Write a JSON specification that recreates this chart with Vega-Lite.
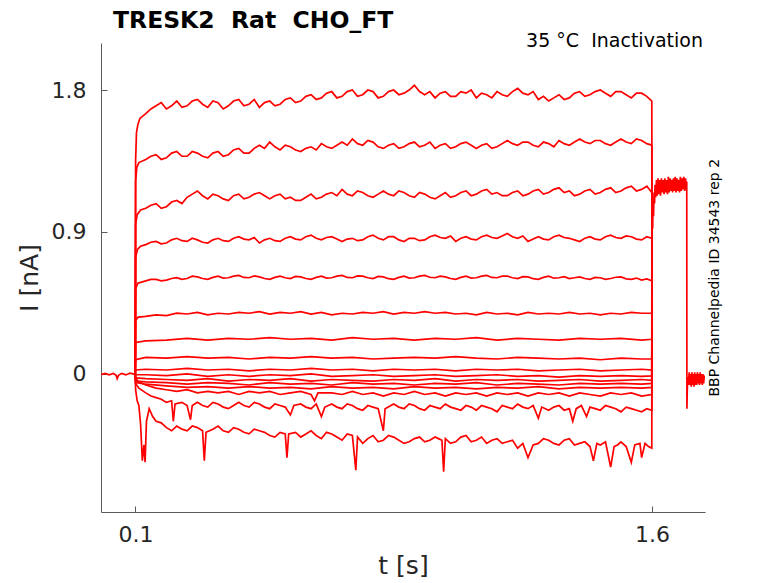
{
"$schema": "https://vega.github.io/schema/vega-lite/v6.json",
"width": 604, "height": 469,
"autosize": {"type": "none"},
"padding": {"left": 101, "top": 43, "right": 73, "bottom": 71},
"background": "white",
"config": {"view": {"stroke": null}, "font": "DejaVu Sans"},
"title": {"text": "TRESK2\u00a0\u00a0Rat\u00a0\u00a0CHO_FT", "anchor": "start", "frame": "group", "dx": 12, "offset": 0, "fontSize": 23.5, "font": "DejaVu Sans", "fontWeight": "bold", "color": "#000000"},
"layer": [
{
"data": {"values": [
{"s":0,"t":0,"i":-0.005},{"s":0,"t":0.012,"i":0.004},{"s":0,"t":0.024,"i":-0.006},{"s":0,"t":0.036,"i":0.003},{"s":0,"t":0.044,"i":-0.008},{"s":0,"t":0.047,"i":-0.03},{"s":0,"t":0.051,"i":-0.008},{"s":0,"t":0.06,"i":0.004},{"s":0,"t":0.072,"i":-0.006},{"s":0,"t":0.084,"i":0.005},{"s":0,"t":0.0995,"i":-0.003},

{"s":1,"t":0.0995,"i":0},{"s":1,"t":0.1005,"i":1.35},{"s":1,"t":0.103,"i":1.53},{"s":1,"t":0.107,"i":1.58},{"s":1,"t":0.113,"i":1.62},
{"s":1,"t":0.13,"i":1.65},{"s":1,"t":0.16,"i":1.70},{"s":1,"t":0.19,"i":1.68},{"s":1,"t":0.22,"i":1.73},{"s":1,"t":0.25,"i":1.70},{"s":1,"t":0.28,"i":1.74},{"s":1,"t":0.31,"i":1.69},{"s":1,"t":0.34,"i":1.72},{"s":1,"t":0.37,"i":1.70},{"s":1,"t":0.40,"i":1.74},{"s":1,"t":0.43,"i":1.71},{"s":1,"t":0.46,"i":1.69},{"s":1,"t":0.49,"i":1.73},{"s":1,"t":0.52,"i":1.71},{"s":1,"t":0.55,"i":1.75},{"s":1,"t":0.58,"i":1.73},{"s":1,"t":0.61,"i":1.77},{"s":1,"t":0.64,"i":1.75},{"s":1,"t":0.67,"i":1.79},{"s":1,"t":0.70,"i":1.76},{"s":1,"t":0.73,"i":1.80},{"s":1,"t":0.76,"i":1.77},{"s":1,"t":0.79,"i":1.79},{"s":1,"t":0.82,"i":1.76},{"s":1,"t":0.85,"i":1.80},{"s":1,"t":0.88,"i":1.78},{"s":1,"t":0.91,"i":1.83},{"s":1,"t":0.94,"i":1.77},{"s":1,"t":0.97,"i":1.75},{"s":1,"t":1.00,"i":1.79},{"s":1,"t":1.03,"i":1.76},{"s":1,"t":1.06,"i":1.78},{"s":1,"t":1.09,"i":1.75},{"s":1,"t":1.12,"i":1.77},{"s":1,"t":1.15,"i":1.79},{"s":1,"t":1.18,"i":1.76},{"s":1,"t":1.21,"i":1.81},{"s":1,"t":1.24,"i":1.77},{"s":1,"t":1.27,"i":1.74},{"s":1,"t":1.30,"i":1.73},{"s":1,"t":1.33,"i":1.77},{"s":1,"t":1.36,"i":1.75},{"s":1,"t":1.39,"i":1.79},{"s":1,"t":1.42,"i":1.77},{"s":1,"t":1.45,"i":1.80},{"s":1,"t":1.48,"i":1.76},{"s":1,"t":1.51,"i":1.79},{"s":1,"t":1.54,"i":1.75},{"s":1,"t":1.57,"i":1.78},{"s":1,"t":1.5995,"i":1.73},{"s":1,"t":1.6002,"i":0.95},
{"s":1,"t":0.145,"i":1.68},{"s":1,"t":0.175,"i":1.72},{"s":1,"t":0.205,"i":1.70},{"s":1,"t":0.235,"i":1.69},{"s":1,"t":0.265,"i":1.73},{"s":1,"t":0.295,"i":1.71},{"s":1,"t":0.325,"i":1.73},{"s":1,"t":0.355,"i":1.68},{"s":1,"t":0.385,"i":1.73},{"s":1,"t":0.415,"i":1.70},{"s":1,"t":0.445,"i":1.74},{"s":1,"t":0.475,"i":1.72},{"s":1,"t":0.505,"i":1.70},{"s":1,"t":0.535,"i":1.74},{"s":1,"t":0.565,"i":1.72},{"s":1,"t":0.595,"i":1.76},{"s":1,"t":0.625,"i":1.74},{"s":1,"t":0.655,"i":1.78},{"s":1,"t":0.685,"i":1.75},{"s":1,"t":0.715,"i":1.79},{"s":1,"t":0.745,"i":1.76},{"s":1,"t":0.775,"i":1.80},{"s":1,"t":0.805,"i":1.75},{"s":1,"t":0.835,"i":1.79},{"s":1,"t":0.865,"i":1.77},{"s":1,"t":0.895,"i":1.80},{"s":1,"t":0.925,"i":1.79},{"s":1,"t":0.955,"i":1.79},{"s":1,"t":0.985,"i":1.78},{"s":1,"t":1.015,"i":1.76},{"s":1,"t":1.045,"i":1.79},{"s":1,"t":1.075,"i":1.80},{"s":1,"t":1.105,"i":1.78},{"s":1,"t":1.135,"i":1.75},{"s":1,"t":1.165,"i":1.77},{"s":1,"t":1.195,"i":1.79},{"s":1,"t":1.225,"i":1.78},{"s":1,"t":1.255,"i":1.79},{"s":1,"t":1.285,"i":1.76},{"s":1,"t":1.315,"i":1.75},{"s":1,"t":1.345,"i":1.74},{"s":1,"t":1.375,"i":1.78},{"s":1,"t":1.405,"i":1.76},{"s":1,"t":1.435,"i":1.79},{"s":1,"t":1.465,"i":1.78},{"s":1,"t":1.495,"i":1.79},{"s":1,"t":1.525,"i":1.77},{"s":1,"t":1.555,"i":1.78},{"s":1,"t":1.585,"i":1.76},

{"s":2,"t":0.0995,"i":0},{"s":2,"t":0.1005,"i":1.22},{"s":2,"t":0.104,"i":1.31},{"s":2,"t":0.11,"i":1.34},
{"s":2,"t":0.13,"i":1.36},{"s":2,"t":0.16,"i":1.39},{"s":2,"t":0.19,"i":1.37},{"s":2,"t":0.22,"i":1.41},{"s":2,"t":0.25,"i":1.38},{"s":2,"t":0.28,"i":1.40},{"s":2,"t":0.31,"i":1.37},{"s":2,"t":0.34,"i":1.41},{"s":2,"t":0.37,"i":1.39},{"s":2,"t":0.40,"i":1.43},{"s":2,"t":0.43,"i":1.40},{"s":2,"t":0.46,"i":1.45},{"s":2,"t":0.49,"i":1.47},{"s":2,"t":0.52,"i":1.42},{"s":2,"t":0.55,"i":1.44},{"s":2,"t":0.58,"i":1.41},{"s":2,"t":0.61,"i":1.44},{"s":2,"t":0.64,"i":1.46},{"s":2,"t":0.67,"i":1.43},{"s":2,"t":0.70,"i":1.47},{"s":2,"t":0.73,"i":1.49},{"s":2,"t":0.76,"i":1.45},{"s":2,"t":0.79,"i":1.47},{"s":2,"t":0.82,"i":1.43},{"s":2,"t":0.85,"i":1.46},{"s":2,"t":0.88,"i":1.44},{"s":2,"t":0.91,"i":1.47},{"s":2,"t":0.94,"i":1.45},{"s":2,"t":0.97,"i":1.43},{"s":2,"t":1.00,"i":1.46},{"s":2,"t":1.03,"i":1.44},{"s":2,"t":1.06,"i":1.47},{"s":2,"t":1.09,"i":1.43},{"s":2,"t":1.12,"i":1.46},{"s":2,"t":1.15,"i":1.44},{"s":2,"t":1.18,"i":1.48},{"s":2,"t":1.21,"i":1.45},{"s":2,"t":1.24,"i":1.47},{"s":2,"t":1.27,"i":1.44},{"s":2,"t":1.30,"i":1.46},{"s":2,"t":1.33,"i":1.48},{"s":2,"t":1.36,"i":1.45},{"s":2,"t":1.39,"i":1.49},{"s":2,"t":1.42,"i":1.46},{"s":2,"t":1.45,"i":1.48},{"s":2,"t":1.48,"i":1.45},{"s":2,"t":1.51,"i":1.49},{"s":2,"t":1.54,"i":1.46},{"s":2,"t":1.57,"i":1.48},{"s":2,"t":1.5995,"i":1.45},{"s":2,"t":1.6002,"i":0.95},
{"s":2,"t":0.145,"i":1.38},{"s":2,"t":0.175,"i":1.36},{"s":2,"t":0.205,"i":1.40},{"s":2,"t":0.235,"i":1.38},{"s":2,"t":0.265,"i":1.41},{"s":2,"t":0.295,"i":1.38},{"s":2,"t":0.325,"i":1.40},{"s":2,"t":0.355,"i":1.38},{"s":2,"t":0.385,"i":1.42},{"s":2,"t":0.415,"i":1.40},{"s":2,"t":0.445,"i":1.43},{"s":2,"t":0.475,"i":1.43},{"s":2,"t":0.505,"i":1.44},{"s":2,"t":0.535,"i":1.45},{"s":2,"t":0.565,"i":1.42},{"s":2,"t":0.595,"i":1.43},{"s":2,"t":0.625,"i":1.42},{"s":2,"t":0.655,"i":1.44},{"s":2,"t":0.685,"i":1.45},{"s":2,"t":0.715,"i":1.45},{"s":2,"t":0.745,"i":1.46},{"s":2,"t":0.775,"i":1.48},{"s":2,"t":0.805,"i":1.44},{"s":2,"t":0.835,"i":1.45},{"s":2,"t":0.865,"i":1.43},{"s":2,"t":0.895,"i":1.46},{"s":2,"t":0.925,"i":1.44},{"s":2,"t":0.955,"i":1.47},{"s":2,"t":0.985,"i":1.45},{"s":2,"t":1.015,"i":1.43},{"s":2,"t":1.045,"i":1.46},{"s":2,"t":1.075,"i":1.45},{"s":2,"t":1.105,"i":1.45},{"s":2,"t":1.135,"i":1.43},{"s":2,"t":1.165,"i":1.46},{"s":2,"t":1.195,"i":1.46},{"s":2,"t":1.225,"i":1.47},{"s":2,"t":1.255,"i":1.45},{"s":2,"t":1.285,"i":1.47},{"s":2,"t":1.315,"i":1.44},{"s":2,"t":1.345,"i":1.46},{"s":2,"t":1.375,"i":1.47},{"s":2,"t":1.405,"i":1.47},{"s":2,"t":1.435,"i":1.48},{"s":2,"t":1.465,"i":1.46},{"s":2,"t":1.495,"i":1.47},{"s":2,"t":1.525,"i":1.47},{"s":2,"t":1.555,"i":1.49},{"s":2,"t":1.585,"i":1.46},

{"s":3,"t":0.0995,"i":0},{"s":3,"t":0.1005,"i":0.95},{"s":3,"t":0.105,"i":1.01},{"s":3,"t":0.115,"i":1.04},
{"s":3,"t":0.13,"i":1.05},{"s":3,"t":0.16,"i":1.08},{"s":3,"t":0.19,"i":1.06},{"s":3,"t":0.22,"i":1.10},{"s":3,"t":0.25,"i":1.12},{"s":3,"t":0.28,"i":1.16},{"s":3,"t":0.31,"i":1.11},{"s":3,"t":0.34,"i":1.13},{"s":3,"t":0.37,"i":1.10},{"s":3,"t":0.40,"i":1.14},{"s":3,"t":0.43,"i":1.12},{"s":3,"t":0.46,"i":1.15},{"s":3,"t":0.49,"i":1.11},{"s":3,"t":0.52,"i":1.14},{"s":3,"t":0.55,"i":1.12},{"s":3,"t":0.58,"i":1.10},{"s":3,"t":0.61,"i":1.14},{"s":3,"t":0.64,"i":1.12},{"s":3,"t":0.67,"i":1.15},{"s":3,"t":0.70,"i":1.17},{"s":3,"t":0.73,"i":1.13},{"s":3,"t":0.76,"i":1.15},{"s":3,"t":0.79,"i":1.12},{"s":3,"t":0.82,"i":1.16},{"s":3,"t":0.85,"i":1.13},{"s":3,"t":0.88,"i":1.15},{"s":3,"t":0.91,"i":1.12},{"s":3,"t":0.94,"i":1.14},{"s":3,"t":0.97,"i":1.11},{"s":3,"t":1.00,"i":1.15},{"s":3,"t":1.03,"i":1.13},{"s":3,"t":1.06,"i":1.16},{"s":3,"t":1.09,"i":1.14},{"s":3,"t":1.12,"i":1.17},{"s":3,"t":1.15,"i":1.15},{"s":3,"t":1.18,"i":1.13},{"s":3,"t":1.21,"i":1.16},{"s":3,"t":1.24,"i":1.14},{"s":3,"t":1.27,"i":1.17},{"s":3,"t":1.30,"i":1.15},{"s":3,"t":1.33,"i":1.18},{"s":3,"t":1.36,"i":1.16},{"s":3,"t":1.39,"i":1.14},{"s":3,"t":1.42,"i":1.17},{"s":3,"t":1.45,"i":1.15},{"s":3,"t":1.48,"i":1.18},{"s":3,"t":1.51,"i":1.16},{"s":3,"t":1.54,"i":1.19},{"s":3,"t":1.57,"i":1.17},{"s":3,"t":1.5995,"i":1.15},{"s":3,"t":1.6002,"i":0.95},
{"s":3,"t":0.145,"i":1.07},{"s":3,"t":0.175,"i":1.05},{"s":3,"t":0.205,"i":1.09},{"s":3,"t":0.235,"i":1.08},{"s":3,"t":0.265,"i":1.14},{"s":3,"t":0.295,"i":1.13},{"s":3,"t":0.325,"i":1.14},{"s":3,"t":0.355,"i":1.11},{"s":3,"t":0.385,"i":1.13},{"s":3,"t":0.415,"i":1.11},{"s":3,"t":0.445,"i":1.14},{"s":3,"t":0.475,"i":1.13},{"s":3,"t":0.505,"i":1.13},{"s":3,"t":0.535,"i":1.11},{"s":3,"t":0.565,"i":1.10},{"s":3,"t":0.595,"i":1.12},{"s":3,"t":0.625,"i":1.11},{"s":3,"t":0.655,"i":1.14},{"s":3,"t":0.685,"i":1.13},{"s":3,"t":0.715,"i":1.14},{"s":3,"t":0.745,"i":1.16},{"s":3,"t":0.775,"i":1.13},{"s":3,"t":0.805,"i":1.14},{"s":3,"t":0.835,"i":1.14},{"s":3,"t":0.865,"i":1.16},{"s":3,"t":0.895,"i":1.13},{"s":3,"t":0.925,"i":1.15},{"s":3,"t":0.955,"i":1.12},{"s":3,"t":0.985,"i":1.13},{"s":3,"t":1.015,"i":1.12},{"s":3,"t":1.045,"i":1.15},{"s":3,"t":1.075,"i":1.13},{"s":3,"t":1.105,"i":1.16},{"s":3,"t":1.135,"i":1.14},{"s":3,"t":1.165,"i":1.13},{"s":3,"t":1.195,"i":1.15},{"s":3,"t":1.225,"i":1.13},{"s":3,"t":1.255,"i":1.16},{"s":3,"t":1.285,"i":1.14},{"s":3,"t":1.315,"i":1.17},{"s":3,"t":1.345,"i":1.15},{"s":3,"t":1.375,"i":1.13},{"s":3,"t":1.405,"i":1.16},{"s":3,"t":1.435,"i":1.14},{"s":3,"t":1.465,"i":1.17},{"s":3,"t":1.495,"i":1.15},{"s":3,"t":1.525,"i":1.18},{"s":3,"t":1.555,"i":1.16},{"s":3,"t":1.585,"i":1.19},

{"s":4,"t":0.0995,"i":0},{"s":4,"t":0.1005,"i":0.74},{"s":4,"t":0.106,"i":0.79},{"s":4,"t":0.115,"i":0.81},
{"s":4,"t":0.13,"i":0.82},{"s":4,"t":0.16,"i":0.84},{"s":4,"t":0.19,"i":0.83},{"s":4,"t":0.22,"i":0.86},{"s":4,"t":0.25,"i":0.84},{"s":4,"t":0.28,"i":0.85},{"s":4,"t":0.31,"i":0.83},{"s":4,"t":0.34,"i":0.86},{"s":4,"t":0.37,"i":0.84},{"s":4,"t":0.40,"i":0.87},{"s":4,"t":0.43,"i":0.85},{"s":4,"t":0.46,"i":0.83},{"s":4,"t":0.49,"i":0.86},{"s":4,"t":0.52,"i":0.84},{"s":4,"t":0.55,"i":0.87},{"s":4,"t":0.58,"i":0.85},{"s":4,"t":0.61,"i":0.88},{"s":4,"t":0.64,"i":0.85},{"s":4,"t":0.67,"i":0.87},{"s":4,"t":0.70,"i":0.84},{"s":4,"t":0.73,"i":0.86},{"s":4,"t":0.76,"i":0.85},{"s":4,"t":0.79,"i":0.88},{"s":4,"t":0.82,"i":0.85},{"s":4,"t":0.85,"i":0.87},{"s":4,"t":0.88,"i":0.84},{"s":4,"t":0.91,"i":0.86},{"s":4,"t":0.94,"i":0.85},{"s":4,"t":0.97,"i":0.88},{"s":4,"t":1.00,"i":0.86},{"s":4,"t":1.03,"i":0.84},{"s":4,"t":1.06,"i":0.87},{"s":4,"t":1.09,"i":0.85},{"s":4,"t":1.12,"i":0.88},{"s":4,"t":1.15,"i":0.86},{"s":4,"t":1.18,"i":0.89},{"s":4,"t":1.21,"i":0.86},{"s":4,"t":1.24,"i":0.84},{"s":4,"t":1.27,"i":0.87},{"s":4,"t":1.30,"i":0.85},{"s":4,"t":1.33,"i":0.88},{"s":4,"t":1.36,"i":0.86},{"s":4,"t":1.39,"i":0.84},{"s":4,"t":1.42,"i":0.87},{"s":4,"t":1.45,"i":0.85},{"s":4,"t":1.48,"i":0.88},{"s":4,"t":1.51,"i":0.86},{"s":4,"t":1.54,"i":0.87},{"s":4,"t":1.57,"i":0.85},{"s":4,"t":1.5995,"i":0.86},{"s":4,"t":1.6002,"i":0.95},
{"s":4,"t":0.145,"i":0.835},{"s":4,"t":0.175,"i":0.825},{"s":4,"t":0.205,"i":0.85},{"s":4,"t":0.235,"i":0.845},{"s":4,"t":0.265,"i":0.86},{"s":4,"t":0.295,"i":0.835},{"s":4,"t":0.325,"i":0.85},{"s":4,"t":0.355,"i":0.845},{"s":4,"t":0.385,"i":0.86},{"s":4,"t":0.415,"i":0.855},{"s":4,"t":0.445,"i":0.865},{"s":4,"t":0.475,"i":0.85},{"s":4,"t":0.505,"i":0.845},{"s":4,"t":0.535,"i":0.86},{"s":4,"t":0.565,"i":0.855},{"s":4,"t":0.595,"i":0.87},{"s":4,"t":0.625,"i":0.86},{"s":4,"t":0.655,"i":0.865},{"s":4,"t":0.685,"i":0.855},{"s":4,"t":0.715,"i":0.855},{"s":4,"t":0.745,"i":0.845},{"s":4,"t":0.775,"i":0.87},{"s":4,"t":0.805,"i":0.86},{"s":4,"t":0.835,"i":0.87},{"s":4,"t":0.865,"i":0.85},{"s":4,"t":0.895,"i":0.86},{"s":4,"t":0.925,"i":0.845},{"s":4,"t":0.955,"i":0.87},{"s":4,"t":0.985,"i":0.865},{"s":4,"t":1.015,"i":0.875},{"s":4,"t":1.045,"i":0.86},{"s":4,"t":1.075,"i":0.855},{"s":4,"t":1.105,"i":0.87},{"s":4,"t":1.135,"i":0.865},{"s":4,"t":1.165,"i":0.875},{"s":4,"t":1.195,"i":0.87},{"s":4,"t":1.225,"i":0.875},{"s":4,"t":1.255,"i":0.855},{"s":4,"t":1.285,"i":0.855},{"s":4,"t":1.315,"i":0.87},{"s":4,"t":1.345,"i":0.865},{"s":4,"t":1.375,"i":0.85},{"s":4,"t":1.405,"i":0.86},{"s":4,"t":1.435,"i":0.855},{"s":4,"t":1.465,"i":0.87},{"s":4,"t":1.495,"i":0.865},{"s":4,"t":1.525,"i":0.875},{"s":4,"t":1.555,"i":0.855},{"s":4,"t":1.585,"i":0.87},

{"s":5,"t":0.0995,"i":0},{"s":5,"t":0.1005,"i":0.54},{"s":5,"t":0.107,"i":0.575},
{"s":5,"t":0.13,"i":0.59},{"s":5,"t":0.16,"i":0.60},{"s":5,"t":0.19,"i":0.595},{"s":5,"t":0.22,"i":0.61},{"s":5,"t":0.25,"i":0.605},{"s":5,"t":0.28,"i":0.615},{"s":5,"t":0.31,"i":0.60},{"s":5,"t":0.34,"i":0.62},{"s":5,"t":0.37,"i":0.61},{"s":5,"t":0.40,"i":0.625},{"s":5,"t":0.43,"i":0.61},{"s":5,"t":0.46,"i":0.615},{"s":5,"t":0.49,"i":0.60},{"s":5,"t":0.52,"i":0.62},{"s":5,"t":0.55,"i":0.605},{"s":5,"t":0.58,"i":0.615},{"s":5,"t":0.61,"i":0.60},{"s":5,"t":0.64,"i":0.62},{"s":5,"t":0.67,"i":0.61},{"s":5,"t":0.70,"i":0.625},{"s":5,"t":0.73,"i":0.61},{"s":5,"t":0.76,"i":0.62},{"s":5,"t":0.79,"i":0.605},{"s":5,"t":0.82,"i":0.615},{"s":5,"t":0.85,"i":0.60},{"s":5,"t":0.88,"i":0.62},{"s":5,"t":0.91,"i":0.61},{"s":5,"t":0.94,"i":0.625},{"s":5,"t":0.97,"i":0.61},{"s":5,"t":1.00,"i":0.615},{"s":5,"t":1.03,"i":0.60},{"s":5,"t":1.06,"i":0.62},{"s":5,"t":1.09,"i":0.61},{"s":5,"t":1.12,"i":0.625},{"s":5,"t":1.15,"i":0.61},{"s":5,"t":1.18,"i":0.62},{"s":5,"t":1.21,"i":0.605},{"s":5,"t":1.24,"i":0.615},{"s":5,"t":1.27,"i":0.60},{"s":5,"t":1.30,"i":0.62},{"s":5,"t":1.33,"i":0.61},{"s":5,"t":1.36,"i":0.605},{"s":5,"t":1.39,"i":0.615},{"s":5,"t":1.42,"i":0.60},{"s":5,"t":1.45,"i":0.61},{"s":5,"t":1.48,"i":0.605},{"s":5,"t":1.51,"i":0.615},{"s":5,"t":1.54,"i":0.60},{"s":5,"t":1.57,"i":0.595},{"s":5,"t":1.5995,"i":0.59},{"s":5,"t":1.6002,"i":0.95},
{"s":5,"t":0.145,"i":0.60},{"s":5,"t":0.175,"i":0.59},{"s":5,"t":0.205,"i":0.605},{"s":5,"t":0.235,"i":0.60},{"s":5,"t":0.265,"i":0.62},{"s":5,"t":0.295,"i":0.605},{"s":5,"t":0.325,"i":0.612},{"s":5,"t":0.355,"i":0.608},{"s":5,"t":0.385,"i":0.62},{"s":5,"t":0.415,"i":0.612},{"s":5,"t":0.445,"i":0.622},{"s":5,"t":0.475,"i":0.605},{"s":5,"t":0.505,"i":0.612},{"s":5,"t":0.535,"i":0.61},{"s":5,"t":0.565,"i":0.618},{"s":5,"t":0.595,"i":0.605},{"s":5,"t":0.625,"i":0.612},{"s":5,"t":0.655,"i":0.608},{"s":5,"t":0.685,"i":0.62},{"s":5,"t":0.715,"i":0.612},{"s":5,"t":0.745,"i":0.622},{"s":5,"t":0.775,"i":0.61},{"s":5,"t":0.805,"i":0.618},{"s":5,"t":0.835,"i":0.604},{"s":5,"t":0.865,"i":0.612},{"s":5,"t":0.895,"i":0.608},{"s":5,"t":0.925,"i":0.62},{"s":5,"t":0.955,"i":0.613},{"s":5,"t":0.985,"i":0.62},{"s":5,"t":1.015,"i":0.605},{"s":5,"t":1.045,"i":0.612},{"s":5,"t":1.075,"i":0.608},{"s":5,"t":1.105,"i":0.62},{"s":5,"t":1.135,"i":0.612},{"s":5,"t":1.165,"i":0.62},{"s":5,"t":1.195,"i":0.61},{"s":5,"t":1.225,"i":0.617},{"s":5,"t":1.255,"i":0.604},{"s":5,"t":1.285,"i":0.612},{"s":5,"t":1.315,"i":0.607},{"s":5,"t":1.345,"i":0.617},{"s":5,"t":1.375,"i":0.61},{"s":5,"t":1.405,"i":0.605},{"s":5,"t":1.435,"i":0.612},{"s":5,"t":1.465,"i":0.60},{"s":5,"t":1.495,"i":0.613},{"s":5,"t":1.525,"i":0.603},{"s":5,"t":1.555,"i":0.608},{"s":5,"t":1.585,"i":0.602},

{"s":6,"t":0.0995,"i":0},{"s":6,"t":0.1005,"i":0.34},{"s":6,"t":0.108,"i":0.36},
{"s":6,"t":0.13,"i":0.365},{"s":6,"t":0.16,"i":0.375},{"s":6,"t":0.19,"i":0.37},{"s":6,"t":0.22,"i":0.385},{"s":6,"t":0.25,"i":0.38},{"s":6,"t":0.28,"i":0.39},{"s":6,"t":0.31,"i":0.375},{"s":6,"t":0.34,"i":0.385},{"s":6,"t":0.37,"i":0.38},{"s":6,"t":0.40,"i":0.39},{"s":6,"t":0.43,"i":0.385},{"s":6,"t":0.46,"i":0.395},{"s":6,"t":0.49,"i":0.38},{"s":6,"t":0.52,"i":0.39},{"s":6,"t":0.55,"i":0.385},{"s":6,"t":0.58,"i":0.395},{"s":6,"t":0.61,"i":0.38},{"s":6,"t":0.64,"i":0.39},{"s":6,"t":0.67,"i":0.375},{"s":6,"t":0.70,"i":0.385},{"s":6,"t":0.73,"i":0.38},{"s":6,"t":0.76,"i":0.39},{"s":6,"t":0.79,"i":0.385},{"s":6,"t":0.82,"i":0.395},{"s":6,"t":0.85,"i":0.38},{"s":6,"t":0.88,"i":0.39},{"s":6,"t":0.91,"i":0.385},{"s":6,"t":0.94,"i":0.395},{"s":6,"t":0.97,"i":0.385},{"s":6,"t":1.00,"i":0.39},{"s":6,"t":1.03,"i":0.38},{"s":6,"t":1.06,"i":0.385},{"s":6,"t":1.09,"i":0.375},{"s":6,"t":1.12,"i":0.39},{"s":6,"t":1.15,"i":0.38},{"s":6,"t":1.18,"i":0.385},{"s":6,"t":1.21,"i":0.375},{"s":6,"t":1.24,"i":0.39},{"s":6,"t":1.27,"i":0.38},{"s":6,"t":1.30,"i":0.385},{"s":6,"t":1.33,"i":0.38},{"s":6,"t":1.36,"i":0.39},{"s":6,"t":1.39,"i":0.38},{"s":6,"t":1.42,"i":0.385},{"s":6,"t":1.45,"i":0.375},{"s":6,"t":1.48,"i":0.385},{"s":6,"t":1.51,"i":0.38},{"s":6,"t":1.54,"i":0.39},{"s":6,"t":1.57,"i":0.385},{"s":6,"t":1.5995,"i":0.385},{"s":6,"t":1.6002,"i":0.95},

{"s":7,"t":0.0995,"i":0},{"s":7,"t":0.1005,"i":0.20},
{"s":7,"t":0.13,"i":0.21},{"s":7,"t":0.19,"i":0.215},{"s":7,"t":0.25,"i":0.225},{"s":7,"t":0.31,"i":0.215},{"s":7,"t":0.37,"i":0.225},{"s":7,"t":0.43,"i":0.22},{"s":7,"t":0.49,"i":0.23},{"s":7,"t":0.55,"i":0.22},{"s":7,"t":0.61,"i":0.225},{"s":7,"t":0.67,"i":0.215},{"s":7,"t":0.73,"i":0.23},{"s":7,"t":0.79,"i":0.22},{"s":7,"t":0.85,"i":0.225},{"s":7,"t":0.91,"i":0.215},{"s":7,"t":0.97,"i":0.225},{"s":7,"t":1.03,"i":0.22},{"s":7,"t":1.09,"i":0.23},{"s":7,"t":1.15,"i":0.215},{"s":7,"t":1.21,"i":0.225},{"s":7,"t":1.27,"i":0.22},{"s":7,"t":1.33,"i":0.215},{"s":7,"t":1.39,"i":0.225},{"s":7,"t":1.45,"i":0.22},{"s":7,"t":1.51,"i":0.225},{"s":7,"t":1.57,"i":0.215},{"s":7,"t":1.5995,"i":0.22},{"s":7,"t":1.6002,"i":0.95},

{"s":8,"t":0.0995,"i":0},{"s":8,"t":0.1005,"i":0.09},
{"s":8,"t":0.13,"i":0.105},{"s":8,"t":0.19,"i":0.10},{"s":8,"t":0.25,"i":0.11},{"s":8,"t":0.31,"i":0.10},{"s":8,"t":0.37,"i":0.105},{"s":8,"t":0.43,"i":0.095},{"s":8,"t":0.49,"i":0.105},{"s":8,"t":0.55,"i":0.10},{"s":8,"t":0.61,"i":0.11},{"s":8,"t":0.67,"i":0.10},{"s":8,"t":0.73,"i":0.105},{"s":8,"t":0.79,"i":0.095},{"s":8,"t":0.85,"i":0.10},{"s":8,"t":0.91,"i":0.105},{"s":8,"t":0.97,"i":0.10},{"s":8,"t":1.03,"i":0.11},{"s":8,"t":1.09,"i":0.10},{"s":8,"t":1.15,"i":0.095},{"s":8,"t":1.21,"i":0.105},{"s":8,"t":1.27,"i":0.10},{"s":8,"t":1.33,"i":0.095},{"s":8,"t":1.39,"i":0.10},{"s":8,"t":1.45,"i":0.09},{"s":8,"t":1.51,"i":0.10},{"s":8,"t":1.57,"i":0.095},{"s":8,"t":1.5995,"i":0.095},{"s":8,"t":1.6002,"i":0.95},

{"s":9,"t":0.0995,"i":0},{"s":9,"t":0.1005,"i":0.025},
{"s":9,"t":0.13,"i":0.03},{"s":9,"t":0.19,"i":0.025},{"s":9,"t":0.25,"i":0.035},{"s":9,"t":0.31,"i":0.025},{"s":9,"t":0.37,"i":0.03},{"s":9,"t":0.43,"i":0.02},{"s":9,"t":0.49,"i":0.03},{"s":9,"t":0.55,"i":0.025},{"s":9,"t":0.61,"i":0.035},{"s":9,"t":0.67,"i":0.025},{"s":9,"t":0.73,"i":0.03},{"s":9,"t":0.79,"i":0.02},{"s":9,"t":0.85,"i":0.03},{"s":9,"t":0.91,"i":0.025},{"s":9,"t":0.97,"i":0.03},{"s":9,"t":1.03,"i":0.02},{"s":9,"t":1.09,"i":0.03},{"s":9,"t":1.15,"i":0.025},{"s":9,"t":1.21,"i":0.03},{"s":9,"t":1.27,"i":0.02},{"s":9,"t":1.33,"i":0.025},{"s":9,"t":1.39,"i":0.03},{"s":9,"t":1.45,"i":0.02},{"s":9,"t":1.51,"i":0.025},{"s":9,"t":1.57,"i":0.03},{"s":9,"t":1.5995,"i":0.025},{"s":9,"t":1.6002,"i":0.95},

{"s":10,"t":0.0995,"i":0},{"s":10,"t":0.1005,"i":-0.005},
{"s":10,"t":0.13,"i":-0.005},{"s":10,"t":0.19,"i":-0.01},{"s":10,"t":0.25,"i":0.0},{"s":10,"t":0.31,"i":-0.015},{"s":10,"t":0.37,"i":-0.005},{"s":10,"t":0.43,"i":-0.015},{"s":10,"t":0.49,"i":-0.005},{"s":10,"t":0.55,"i":-0.01},{"s":10,"t":0.61,"i":0.0},{"s":10,"t":0.67,"i":-0.015},{"s":10,"t":0.73,"i":-0.01},{"s":10,"t":0.79,"i":-0.005},{"s":10,"t":0.85,"i":-0.015},{"s":10,"t":0.91,"i":-0.01},{"s":10,"t":0.97,"i":-0.005},{"s":10,"t":1.03,"i":-0.015},{"s":10,"t":1.09,"i":-0.01},{"s":10,"t":1.15,"i":-0.005},{"s":10,"t":1.21,"i":-0.015},{"s":10,"t":1.27,"i":-0.01},{"s":10,"t":1.33,"i":-0.02},{"s":10,"t":1.39,"i":-0.01},{"s":10,"t":1.45,"i":-0.015},{"s":10,"t":1.51,"i":-0.01},{"s":10,"t":1.57,"i":-0.015},{"s":10,"t":1.5995,"i":-0.012},{"s":10,"t":1.6002,"i":0.95},

{"s":11,"t":0.0995,"i":0},{"s":11,"t":0.1005,"i":-0.025},
{"s":11,"t":0.13,"i":-0.03},{"s":11,"t":0.19,"i":-0.035},{"s":11,"t":0.25,"i":-0.04},{"s":11,"t":0.31,"i":-0.03},{"s":11,"t":0.37,"i":-0.045},{"s":11,"t":0.43,"i":-0.035},{"s":11,"t":0.49,"i":-0.04},{"s":11,"t":0.55,"i":-0.03},{"s":11,"t":0.61,"i":-0.045},{"s":11,"t":0.67,"i":-0.035},{"s":11,"t":0.73,"i":-0.04},{"s":11,"t":0.79,"i":-0.045},{"s":11,"t":0.85,"i":-0.035},{"s":11,"t":0.91,"i":-0.04},{"s":11,"t":0.97,"i":-0.03},{"s":11,"t":1.03,"i":-0.045},{"s":11,"t":1.09,"i":-0.035},{"s":11,"t":1.15,"i":-0.04},{"s":11,"t":1.21,"i":-0.035},{"s":11,"t":1.27,"i":-0.045},{"s":11,"t":1.33,"i":-0.04},{"s":11,"t":1.39,"i":-0.035},{"s":11,"t":1.45,"i":-0.045},{"s":11,"t":1.51,"i":-0.04},{"s":11,"t":1.57,"i":-0.035},{"s":11,"t":1.5995,"i":-0.04},{"s":11,"t":1.6002,"i":0.95},

{"s":12,"t":0.0995,"i":0},{"s":12,"t":0.1005,"i":-0.045},
{"s":12,"t":0.13,"i":-0.05},{"s":12,"t":0.19,"i":-0.055},{"s":12,"t":0.25,"i":-0.065},{"s":12,"t":0.31,"i":-0.055},{"s":12,"t":0.37,"i":-0.06},{"s":12,"t":0.43,"i":-0.07},{"s":12,"t":0.49,"i":-0.055},{"s":12,"t":0.55,"i":-0.065},{"s":12,"t":0.61,"i":-0.06},{"s":12,"t":0.67,"i":-0.07},{"s":12,"t":0.73,"i":-0.055},{"s":12,"t":0.79,"i":-0.065},{"s":12,"t":0.85,"i":-0.06},{"s":12,"t":0.91,"i":-0.07},{"s":12,"t":0.97,"i":-0.06},{"s":12,"t":1.03,"i":-0.065},{"s":12,"t":1.09,"i":-0.055},{"s":12,"t":1.15,"i":-0.07},{"s":12,"t":1.21,"i":-0.06},{"s":12,"t":1.27,"i":-0.065},{"s":12,"t":1.33,"i":-0.07},{"s":12,"t":1.39,"i":-0.06},{"s":12,"t":1.45,"i":-0.065},{"s":12,"t":1.51,"i":-0.06},{"s":12,"t":1.57,"i":-0.065},{"s":12,"t":1.5995,"i":-0.06},{"s":12,"t":1.6002,"i":0.95},

{"s":13,"t":0.0995,"i":0},{"s":13,"t":0.1005,"i":-0.055},
{"s":13,"t":0.13,"i":-0.065},{"s":13,"t":0.19,"i":-0.075},{"s":13,"t":0.25,"i":-0.085},{"s":13,"t":0.31,"i":-0.08},{"s":13,"t":0.37,"i":-0.09},{"s":13,"t":0.43,"i":-0.08},{"s":13,"t":0.49,"i":-0.09},{"s":13,"t":0.55,"i":-0.085},{"s":13,"t":0.61,"i":-0.095},{"s":13,"t":0.67,"i":-0.08},{"s":13,"t":0.73,"i":-0.09},{"s":13,"t":0.79,"i":-0.085},{"s":13,"t":0.85,"i":-0.095},{"s":13,"t":0.91,"i":-0.08},{"s":13,"t":0.97,"i":-0.09},{"s":13,"t":1.03,"i":-0.085},{"s":13,"t":1.09,"i":-0.095},{"s":13,"t":1.15,"i":-0.085},{"s":13,"t":1.21,"i":-0.09},{"s":13,"t":1.27,"i":-0.08},{"s":13,"t":1.33,"i":-0.095},{"s":13,"t":1.39,"i":-0.085},{"s":13,"t":1.45,"i":-0.09},{"s":13,"t":1.51,"i":-0.085},{"s":13,"t":1.57,"i":-0.09},{"s":13,"t":1.5995,"i":-0.085},{"s":13,"t":1.6002,"i":0.95},

{"s":14,"t":0.0995,"i":0},{"s":14,"t":0.1005,"i":-0.03},{"s":14,"t":0.11,"i":-0.05},
{"s":14,"t":0.13,"i":-0.07},{"s":14,"t":0.16,"i":-0.09},{"s":14,"t":0.19,"i":-0.10},{"s":14,"t":0.22,"i":-0.11},{"s":14,"t":0.25,"i":-0.10},{"s":14,"t":0.28,"i":-0.12},{"s":14,"t":0.31,"i":-0.11},{"s":14,"t":0.34,"i":-0.12},{"s":14,"t":0.37,"i":-0.11},{"s":14,"t":0.40,"i":-0.13},{"s":14,"t":0.43,"i":-0.11},{"s":14,"t":0.46,"i":-0.12},{"s":14,"t":0.49,"i":-0.11},{"s":14,"t":0.52,"i":-0.13},{"s":14,"t":0.55,"i":-0.12},{"s":14,"t":0.58,"i":-0.11},{"s":14,"t":0.61,"i":-0.13},{"s":14,"t":0.62,"i":-0.17},{"s":14,"t":0.63,"i":-0.12},{"s":14,"t":0.67,"i":-0.12},{"s":14,"t":0.70,"i":-0.13},{"s":14,"t":0.73,"i":-0.11},{"s":14,"t":0.76,"i":-0.13},{"s":14,"t":0.79,"i":-0.12},{"s":14,"t":0.82,"i":-0.14},{"s":14,"t":0.85,"i":-0.12},{"s":14,"t":0.88,"i":-0.13},{"s":14,"t":0.91,"i":-0.11},{"s":14,"t":0.94,"i":-0.13},{"s":14,"t":0.97,"i":-0.12},{"s":14,"t":1.00,"i":-0.14},{"s":14,"t":1.03,"i":-0.12},{"s":14,"t":1.06,"i":-0.13},{"s":14,"t":1.09,"i":-0.12},{"s":14,"t":1.12,"i":-0.14},{"s":14,"t":1.15,"i":-0.12},{"s":14,"t":1.18,"i":-0.13},{"s":14,"t":1.21,"i":-0.12},{"s":14,"t":1.24,"i":-0.14},{"s":14,"t":1.27,"i":-0.12},{"s":14,"t":1.30,"i":-0.13},{"s":14,"t":1.33,"i":-0.12},{"s":14,"t":1.36,"i":-0.14},{"s":14,"t":1.39,"i":-0.12},{"s":14,"t":1.42,"i":-0.13},{"s":14,"t":1.45,"i":-0.14},{"s":14,"t":1.48,"i":-0.12},{"s":14,"t":1.51,"i":-0.13},{"s":14,"t":1.54,"i":-0.12},{"s":14,"t":1.57,"i":-0.14},{"s":14,"t":1.5995,"i":-0.13},{"s":14,"t":1.6002,"i":0.95},

{"s":15,"t":0.0995,"i":0},{"s":15,"t":0.1005,"i":-0.06},{"s":15,"t":0.11,"i":-0.09},
{"s":15,"t":0.13,"i":-0.12},{"s":15,"t":0.16,"i":-0.15},{"s":15,"t":0.19,"i":-0.18},{"s":15,"t":0.205,"i":-0.17},{"s":15,"t":0.21,"i":-0.30},{"s":15,"t":0.215,"i":-0.19},{"s":15,"t":0.25,"i":-0.20},{"s":15,"t":0.26,"i":-0.29},{"s":15,"t":0.265,"i":-0.20},{"s":15,"t":0.28,"i":-0.18},{"s":15,"t":0.31,"i":-0.21},{"s":15,"t":0.34,"i":-0.19},{"s":15,"t":0.37,"i":-0.22},{"s":15,"t":0.40,"i":-0.18},{"s":15,"t":0.43,"i":-0.21},{"s":15,"t":0.46,"i":-0.19},{"s":15,"t":0.49,"i":-0.22},{"s":15,"t":0.52,"i":-0.20},{"s":15,"t":0.55,"i":-0.26},{"s":15,"t":0.56,"i":-0.20},{"s":15,"t":0.58,"i":-0.19},{"s":15,"t":0.61,"i":-0.22},{"s":15,"t":0.64,"i":-0.27},{"s":15,"t":0.65,"i":-0.21},{"s":15,"t":0.67,"i":-0.19},{"s":15,"t":0.70,"i":-0.22},{"s":15,"t":0.73,"i":-0.20},{"s":15,"t":0.76,"i":-0.23},{"s":15,"t":0.79,"i":-0.21},{"s":15,"t":0.82,"i":-0.36},{"s":15,"t":0.825,"i":-0.22},{"s":15,"t":0.85,"i":-0.19},{"s":15,"t":0.88,"i":-0.22},{"s":15,"t":0.91,"i":-0.20},{"s":15,"t":0.94,"i":-0.23},{"s":15,"t":0.97,"i":-0.21},{"s":15,"t":1.00,"i":-0.19},{"s":15,"t":1.03,"i":-0.22},{"s":15,"t":1.06,"i":-0.20},{"s":15,"t":1.09,"i":-0.23},{"s":15,"t":1.12,"i":-0.21},{"s":15,"t":1.15,"i":-0.24},{"s":15,"t":1.18,"i":-0.21},{"s":15,"t":1.21,"i":-0.19},{"s":15,"t":1.24,"i":-0.22},{"s":15,"t":1.27,"i":-0.28},{"s":15,"t":1.28,"i":-0.21},{"s":15,"t":1.30,"i":-0.23},{"s":15,"t":1.33,"i":-0.20},{"s":15,"t":1.36,"i":-0.22},{"s":15,"t":1.37,"i":-0.30},{"s":15,"t":1.38,"i":-0.22},{"s":15,"t":1.41,"i":-0.27},{"s":15,"t":1.42,"i":-0.21},{"s":15,"t":1.45,"i":-0.23},{"s":15,"t":1.48,"i":-0.21},{"s":15,"t":1.51,"i":-0.24},{"s":15,"t":1.54,"i":-0.22},{"s":15,"t":1.57,"i":-0.24},{"s":15,"t":1.5995,"i":-0.23},{"s":15,"t":1.6002,"i":0.95},
{"s":15,"t":0.145,"i":-0.14},{"s":15,"t":0.175,"i":-0.16},{"s":15,"t":0.235,"i":-0.18},{"s":15,"t":0.295,"i":-0.20},{"s":15,"t":0.325,"i":-0.18},{"s":15,"t":0.355,"i":-0.21},{"s":15,"t":0.385,"i":-0.20},{"s":15,"t":0.415,"i":-0.20},{"s":15,"t":0.445,"i":-0.18},{"s":15,"t":0.475,"i":-0.21},{"s":15,"t":0.505,"i":-0.19},{"s":15,"t":0.535,"i":-0.21},{"s":15,"t":0.595,"i":-0.21},{"s":15,"t":0.625,"i":-0.19},{"s":15,"t":0.685,"i":-0.21},{"s":15,"t":0.715,"i":-0.19},{"s":15,"t":0.745,"i":-0.22},{"s":15,"t":0.775,"i":-0.20},{"s":15,"t":0.805,"i":-0.22},{"s":15,"t":0.865,"i":-0.21},{"s":15,"t":0.895,"i":-0.19},{"s":15,"t":0.925,"i":-0.22},{"s":15,"t":0.955,"i":-0.20},{"s":15,"t":0.985,"i":-0.22},{"s":15,"t":1.015,"i":-0.21},{"s":15,"t":1.045,"i":-0.23},{"s":15,"t":1.075,"i":-0.21},{"s":15,"t":1.105,"i":-0.20},{"s":15,"t":1.135,"i":-0.22},{"s":15,"t":1.165,"i":-0.20},{"s":15,"t":1.195,"i":-0.22},{"s":15,"t":1.225,"i":-0.21},{"s":15,"t":1.255,"i":-0.20},{"s":15,"t":1.315,"i":-0.21},{"s":15,"t":1.345,"i":-0.23},{"s":15,"t":1.395,"i":-0.20},{"s":15,"t":1.435,"i":-0.22},{"s":15,"t":1.465,"i":-0.20},{"s":15,"t":1.495,"i":-0.22},{"s":15,"t":1.525,"i":-0.21},{"s":15,"t":1.555,"i":-0.23},{"s":15,"t":1.585,"i":-0.22},

{"s":16,"t":0.0995,"i":0},{"s":16,"t":0.1005,"i":-0.10},{"s":16,"t":0.105,"i":-0.17},{"s":16,"t":0.11,"i":-0.20},{"s":16,"t":0.115,"i":-0.32},{"s":16,"t":0.12,"i":-0.55},{"s":16,"t":0.125,"i":-0.45},{"s":16,"t":0.128,"i":-0.56},{"s":16,"t":0.132,"i":-0.30},{"s":16,"t":0.14,"i":-0.22},
{"s":16,"t":0.16,"i":-0.30},{"s":16,"t":0.19,"i":-0.34},{"s":16,"t":0.22,"i":-0.33},{"s":16,"t":0.25,"i":-0.36},{"s":16,"t":0.28,"i":-0.34},{"s":16,"t":0.295,"i":-0.36},{"s":16,"t":0.30,"i":-0.55},{"s":16,"t":0.305,"i":-0.37},{"s":16,"t":0.34,"i":-0.33},{"s":16,"t":0.37,"i":-0.37},{"s":16,"t":0.40,"i":-0.35},{"s":16,"t":0.43,"i":-0.38},{"s":16,"t":0.46,"i":-0.36},{"s":16,"t":0.49,"i":-0.39},{"s":16,"t":0.52,"i":-0.37},{"s":16,"t":0.535,"i":-0.38},{"s":16,"t":0.54,"i":-0.53},{"s":16,"t":0.545,"i":-0.38},{"s":16,"t":0.58,"i":-0.40},{"s":16,"t":0.61,"i":-0.36},{"s":16,"t":0.64,"i":-0.41},{"s":16,"t":0.67,"i":-0.38},{"s":16,"t":0.70,"i":-0.42},{"s":16,"t":0.73,"i":-0.39},{"s":16,"t":0.74,"i":-0.61},{"s":16,"t":0.745,"i":-0.40},{"s":16,"t":0.76,"i":-0.44},{"s":16,"t":0.79,"i":-0.39},{"s":16,"t":0.82,"i":-0.42},{"s":16,"t":0.85,"i":-0.40},{"s":16,"t":0.88,"i":-0.44},{"s":16,"t":0.91,"i":-0.41},{"s":16,"t":0.94,"i":-0.43},{"s":16,"t":0.97,"i":-0.40},{"s":16,"t":0.99,"i":-0.42},{"s":16,"t":0.995,"i":-0.62},{"s":16,"t":1.00,"i":-0.41},{"s":16,"t":1.03,"i":-0.43},{"s":16,"t":1.06,"i":-0.39},{"s":16,"t":1.09,"i":-0.42},{"s":16,"t":1.12,"i":-0.44},{"s":16,"t":1.15,"i":-0.41},{"s":16,"t":1.18,"i":-0.43},{"s":16,"t":1.21,"i":-0.47},{"s":16,"t":1.24,"i":-0.53},{"s":16,"t":1.27,"i":-0.44},{"s":16,"t":1.30,"i":-0.42},{"s":16,"t":1.33,"i":-0.45},{"s":16,"t":1.36,"i":-0.41},{"s":16,"t":1.39,"i":-0.44},{"s":16,"t":1.42,"i":-0.46},{"s":16,"t":1.43,"i":-0.55},{"s":16,"t":1.45,"i":-0.45},{"s":16,"t":1.48,"i":-0.59},{"s":16,"t":1.49,"i":-0.46},{"s":16,"t":1.51,"i":-0.43},{"s":16,"t":1.54,"i":-0.56},{"s":16,"t":1.55,"i":-0.45},{"s":16,"t":1.57,"i":-0.53},{"s":16,"t":1.58,"i":-0.44},{"s":16,"t":1.5995,"i":-0.47},{"s":16,"t":1.6002,"i":0.95},
{"s":16,"t":0.15,"i":-0.27},{"s":16,"t":0.175,"i":-0.31},{"s":16,"t":0.205,"i":-0.36},{"s":16,"t":0.235,"i":-0.35},{"s":16,"t":0.265,"i":-0.33},{"s":16,"t":0.325,"i":-0.35},{"s":16,"t":0.355,"i":-0.36},{"s":16,"t":0.385,"i":-0.34},{"s":16,"t":0.415,"i":-0.37},{"s":16,"t":0.445,"i":-0.35},{"s":16,"t":0.475,"i":-0.37},{"s":16,"t":0.505,"i":-0.40},{"s":16,"t":0.565,"i":-0.37},{"s":16,"t":0.595,"i":-0.38},{"s":16,"t":0.625,"i":-0.39},{"s":16,"t":0.655,"i":-0.37},{"s":16,"t":0.685,"i":-0.40},{"s":16,"t":0.715,"i":-0.38},{"s":16,"t":0.775,"i":-0.41},{"s":16,"t":0.805,"i":-0.43},{"s":16,"t":0.835,"i":-0.39},{"s":16,"t":0.865,"i":-0.42},{"s":16,"t":0.895,"i":-0.43},{"s":16,"t":0.925,"i":-0.40},{"s":16,"t":0.955,"i":-0.42},{"s":16,"t":0.98,"i":-0.41},{"s":16,"t":1.015,"i":-0.44},{"s":16,"t":1.045,"i":-0.40},{"s":16,"t":1.075,"i":-0.43},{"s":16,"t":1.105,"i":-0.40},{"s":16,"t":1.135,"i":-0.42},{"s":16,"t":1.165,"i":-0.44},{"s":16,"t":1.195,"i":-0.42},{"s":16,"t":1.225,"i":-0.44},{"s":16,"t":1.255,"i":-0.45},{"s":16,"t":1.285,"i":-0.41},{"s":16,"t":1.315,"i":-0.44},{"s":16,"t":1.345,"i":-0.42},{"s":16,"t":1.375,"i":-0.45},{"s":16,"t":1.405,"i":-0.43},{"s":16,"t":1.44,"i":-0.44},{"s":16,"t":1.465,"i":-0.43},{"s":16,"t":1.50,"i":-0.45},{"s":16,"t":1.525,"i":-0.46},{"s":16,"t":1.565,"i":-0.44},{"s":16,"t":1.59,"i":-0.46},

{"s":99,"t":1.6002,"i":0.9},{"s":99,"t":1.601,"i":1.0},{"s":99,"t":1.602,"i":0.92},{"s":99,"t":1.603,"i":1.08},{"s":99,"t":1.6045,"i":1.0},{"s":99,"t":1.606,"i":1.15},{"s":99,"t":1.6075,"i":1.08},{"s":99,"t":1.609,"i":1.2},{"s":99,"t":1.611,"i":1.12},{"s":99,"t":1.613,"i":1.23},{"s":99,"t":1.615,"i":1.13},{"s":99,"t":1.6175,"i":1.24},{"s":99,"t":1.62,"i":1.14},{"s":99,"t":1.6225,"i":1.23},{"s":99,"t":1.625,"i":1.13},{"s":99,"t":1.6275,"i":1.24},{"s":99,"t":1.63,"i":1.15},{"s":99,"t":1.6325,"i":1.23},{"s":99,"t":1.635,"i":1.14},{"s":99,"t":1.6375,"i":1.24},{"s":99,"t":1.64,"i":1.15},{"s":99,"t":1.6425,"i":1.23},{"s":99,"t":1.645,"i":1.14},{"s":99,"t":1.6475,"i":1.25},{"s":99,"t":1.65,"i":1.15},{"s":99,"t":1.6525,"i":1.24},{"s":99,"t":1.655,"i":1.16},{"s":99,"t":1.6575,"i":1.23},{"s":99,"t":1.66,"i":1.15},{"s":99,"t":1.6625,"i":1.24},{"s":99,"t":1.665,"i":1.16},{"s":99,"t":1.6675,"i":1.25},{"s":99,"t":1.67,"i":1.15},{"s":99,"t":1.6725,"i":1.24},{"s":99,"t":1.675,"i":1.16},{"s":99,"t":1.6775,"i":1.23},{"s":99,"t":1.68,"i":1.15},{"s":99,"t":1.6825,"i":1.25},{"s":99,"t":1.685,"i":1.16},{"s":99,"t":1.6875,"i":1.24},{"s":99,"t":1.69,"i":1.17},{"s":99,"t":1.6925,"i":1.25},{"s":99,"t":1.695,"i":1.16},{"s":99,"t":1.6975,"i":1.24},{"s":99,"t":1.7,"i":1.17},{"s":99,"t":1.701,"i":1.22},{"s":99,"t":1.7015,"i":-0.22},{"s":99,"t":1.7025,"i":-0.1},{"s":99,"t":1.704,"i":-0.02},{"s":99,"t":1.706,"i":-0.07},{"s":99,"t":1.708,"i":0.01},{"s":99,"t":1.71,"i":-0.07},{"s":99,"t":1.712,"i":0.0},{"s":99,"t":1.714,"i":-0.08},{"s":99,"t":1.716,"i":0.01},{"s":99,"t":1.718,"i":-0.07},{"s":99,"t":1.72,"i":0.0},{"s":99,"t":1.722,"i":-0.08},{"s":99,"t":1.724,"i":0.01},{"s":99,"t":1.726,"i":-0.07},{"s":99,"t":1.728,"i":0.0},{"s":99,"t":1.73,"i":-0.07},{"s":99,"t":1.732,"i":0.01},{"s":99,"t":1.734,"i":-0.06},{"s":99,"t":1.736,"i":0.0},{"s":99,"t":1.738,"i":-0.07},{"s":99,"t":1.74,"i":0.01},{"s":99,"t":1.742,"i":-0.06},{"s":99,"t":1.744,"i":0.0},{"s":99,"t":1.746,"i":-0.07},{"s":99,"t":1.748,"i":0.0},{"s":99,"t":1.75,"i":-0.06},{"s":99,"t":1.752,"i":-0.01}
]},
"mark": {"type": "line", "color": "#ff0000", "strokeWidth": 1.7, "clip": true},
"encoding": {
"x": {"field": "t", "type": "quantitative", "scale": {"domain": [0, 1.754], "nice": false, "zero": false},
 "axis": {"title": "t [s]", "values": [0.1, 1.6], "format": ".1f", "grid": false, "tickSize": -6, "labelPadding": 18, "titlePadding": 8, "domainColor": "#5a5a5a", "tickColor": "#5a5a5a", "labelColor": "#262626", "titleColor": "#262626", "labelFont": "DejaVu Sans", "titleFont": "DejaVu Sans", "labelFontSize": 22, "titleFontSize": 25, "titleFontWeight": "normal"}},
"y": {"field": "i", "type": "quantitative", "scale": {"domain": [-0.875, 2.098], "nice": false, "zero": false},
 "axis": {"title": "I [nA]", "values": [0, 0.9, 1.8], "format": ".1~f", "grid": false, "tickSize": -6, "labelPadding": 21, "titlePadding": 9, "domainColor": "#5a5a5a", "tickColor": "#5a5a5a", "labelColor": "#262626", "titleColor": "#262626", "labelFont": "DejaVu Sans", "titleFont": "DejaVu Sans", "labelFontSize": 22, "titleFontSize": 25, "titleFontWeight": "normal"}},
"detail": {"field": "s", "type": "nominal"}
}
},
{
"data": {"values": [{"label": "35 °C\u00a0\u00a0Inactivation"}]},
"mark": {"type": "text", "align": "right", "baseline": "middle", "fontSize": 19, "font": "DejaVu Sans", "color": "#000000"},
"encoding": {
"x": {"datum": 1.748, "type": "quantitative"},
"y": {"datum": 2.11, "type": "quantitative"},
"text": {"field": "label"}
}
},
{
"data": {"values": [{"label": "BBP Channelpedia ID 34543 rep 2"}]},
"mark": {"type": "text", "align": "center", "baseline": "middle", "angle": 270, "fontSize": 14, "font": "DejaVu Sans", "color": "#000000"},
"encoding": {
"x": {"datum": 1.784, "type": "quantitative"},
"y": {"datum": 0.61, "type": "quantitative"},
"text": {"field": "label"}
}
}
]
}
